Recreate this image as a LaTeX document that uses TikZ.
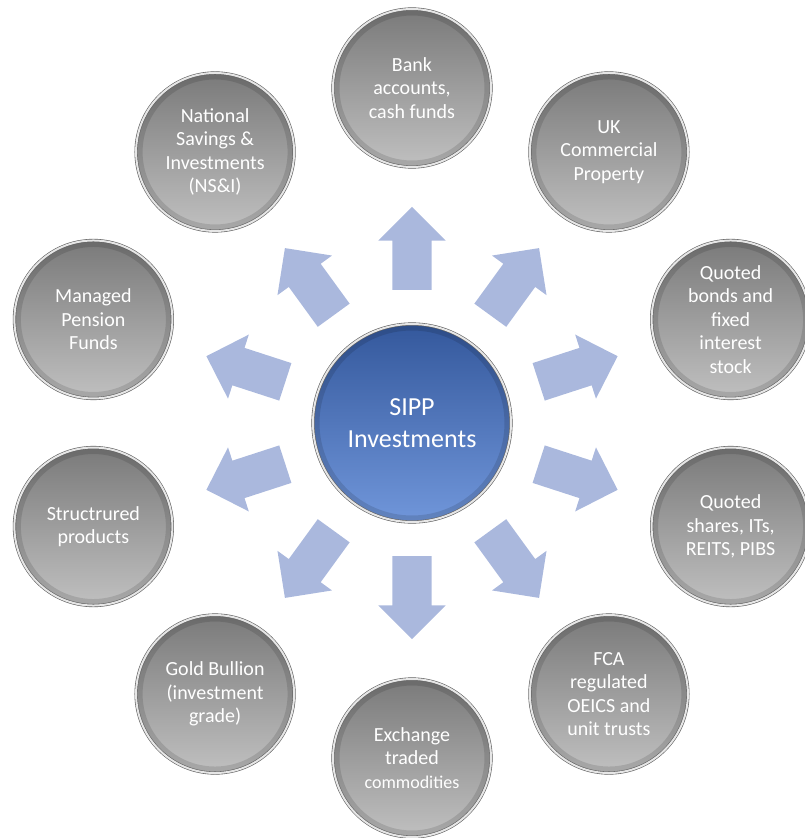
\documentclass[tikz,border=0pt]{standalone}
\usepackage{fontspec}
\setmainfont{Carlito}
\usetikzlibrary{shapes.arrows,calc}
\definecolor{arrowblue}{RGB}{170,184,221}
\definecolor{hubtop}{RGB}{52,88,156}
\definecolor{hubbot}{RGB}{112,150,218}
\definecolor{balltop}{RGB}{122,122,122}
\definecolor{ballbot}{RGB}{192,192,192}
\definecolor{rimgray}{RGB}{230,230,230}
\begin{document}
\begin{tikzpicture}[x=1pt, y=1pt, line join=round,
	ball/.style={circle, minimum size=158pt, inner sep=0pt, top color=balltop, bottom color=ballbot,
		draw=gray!75!black, double=rimgray, double distance=2pt, line width=.6pt,
		path picture={\draw[black, opacity=.12, line width=5pt] (path picture bounding box.center) circle (#1);},
		text=white, align=center, font=\fontsize{20}{23.5}\selectfont},
	ball/.default=75pt,
	hub/.style={ball=95pt, minimum size=198pt, top color=hubtop, bottom color=hubbot,
		font=\fontsize{26}{32}\selectfont},
	blockarrow/.style={single arrow, fill=arrowblue, draw=none, minimum height=83pt, inner sep=0pt,
		inner ysep=19.5pt, single arrow head extend=14pt, single arrow tip angle=90, anchor=tail}]
	\useasboundingbox (-412,-415) rectangle (393,423);
	\node[hub] (sipp) at (0,0) {SIPP\\Investments};
	\node[ball] (bank) at (90:335) {Bank\\accounts,\\cash funds};
	\node[ball] (ukprop) at (54:335) {UK\\Commercial\\Property};
	\node[ball] (bonds) at (18:335) {Quoted\\bonds and\\fixed\\interest\\stock};
	\node[ball] (shares) at (-18:335) {Quoted\\shares, ITs,\\REITS, PIBS};
	\node[ball] (fca) at (-54:335) {FCA\\regulated\\OEICS and\\unit trusts};
	\node[ball] (etc) at (-90:335) {Exchange\\traded\\{\fontsize{18}{22}\selectfont commodities}};
	\node[ball] (gold) at (-126:335) {Gold Bullion\\(investment\\grade)};
	\node[ball] (struct) at (-162:335) {Structrured\\products};
	\node[ball] (pension) at (162:335) {Managed\\Pension\\Funds};
	\node[ball] (nsi) at (126:335) {National\\Savings \&\\Investments\\(NS\&I)};
	% block arrows from the hub out to each ball
	\foreach \n/\a in {bank/90,ukprop/54,bonds/18,shares/-18,fca/-54,etc/-90,gold/-126,struct/-162,pension/162,nsi/126}
		\node[blockarrow, rotate=\a] (arr-\n) at ($(sipp)!.397!(\n)$) {};
\end{tikzpicture}
\end{document}
